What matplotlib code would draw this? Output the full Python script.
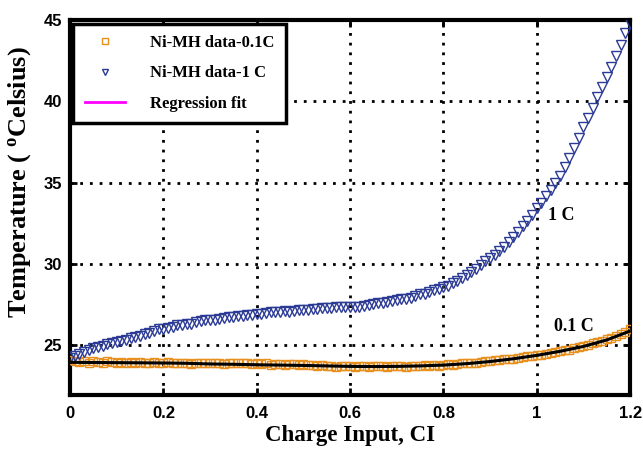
import numpy as np
from matplotlib import pyplot as plt

plt.rcParams['mathtext.fontset'] = 'custom'
plt.rcParams['mathtext.rm'] = 'Liberation Serif:bold'
plt.rcParams['mathtext.it'] = 'Liberation Serif:bold'
plt.rcParams['mathtext.bf'] = 'Liberation Serif:bold'

# charge input (CI) sample positions
ci = np.round(np.linspace(0, 1.2, 121), 2)

temp_1c = [
    24.2, 24.3, 24.45, 24.55, 24.7, 24.8, 24.85, 24.95, 25.05, 25.1,
    25.2, 25.25, 25.3, 25.4, 25.5, 25.55, 25.65, 25.75, 25.85, 25.95,
    26.0, 26.05, 26.1, 26.2, 26.25, 26.3, 26.3, 26.4, 26.45, 26.5,
    26.5, 26.55, 26.6, 26.65, 26.7, 26.7, 26.75, 26.8, 26.85, 26.85,
    26.9, 26.9, 26.95, 27.0, 27.0, 27.05, 27.1, 27.05, 27.1, 27.15,
    27.15, 27.15, 27.2, 27.2, 27.25, 27.25, 27.25, 27.3, 27.3, 27.3,
    27.3, 27.35, 27.35, 27.4, 27.45, 27.5, 27.55, 27.6, 27.65, 27.7,
    27.75, 27.8, 27.85, 27.9, 28.0, 28.1, 28.15, 28.25, 28.35, 28.45,
    28.55, 28.65, 28.8, 28.95, 29.1, 29.3, 29.5, 29.7, 29.9, 30.15,
    30.35, 30.55, 30.8, 31.05, 31.35, 31.65, 31.95, 32.3, 32.65, 33.0,
    33.4, 33.75, 34.15, 34.55, 34.95, 35.4, 35.95, 36.5, 37.15, 37.75,
    38.4, 39.0, 39.6, 40.25, 40.9, 41.5, 42.1, 42.8, 43.5, 44.2,
    44.8,
]

temp_01c = [
    24.05, 24.0, 23.95, 24.0, 23.9, 24.0, 23.95, 23.9, 24.0, 23.95,
    23.9, 23.95, 23.85, 23.95, 23.9, 23.95, 23.9, 23.85, 23.95, 23.9,
    23.9, 23.95, 23.85, 23.9, 23.9, 23.85, 23.8, 23.9, 23.85, 23.9,
    23.85, 23.9, 23.85, 23.8, 23.9, 23.85, 23.9, 23.85, 23.85, 23.8,
    23.85, 23.8, 23.85, 23.75, 23.8, 23.8, 23.75, 23.8, 23.8, 23.75,
    23.8, 23.75, 23.75, 23.7, 23.75, 23.7, 23.7, 23.65, 23.7, 23.7,
    23.7, 23.65, 23.7, 23.7, 23.65, 23.7, 23.7, 23.7, 23.65, 23.7,
    23.7, 23.7, 23.65, 23.7, 23.7, 23.7, 23.75, 23.7, 23.75, 23.7,
    23.75, 23.8, 23.75, 23.8, 23.85, 23.85, 23.9, 23.9, 23.95, 24.0,
    24.0, 24.05, 24.05, 24.1, 24.15, 24.15, 24.2, 24.25, 24.3, 24.3,
    24.35, 24.4, 24.45, 24.5, 24.55, 24.6, 24.65, 24.7, 24.8, 24.85,
    24.95, 25.0, 25.1, 25.15, 25.25, 25.35, 25.45, 25.55, 25.65, 25.8,
    26.0,
]

fit_ci = [0, 0.05, 0.1, 0.15, 0.2, 0.25, 0.3, 0.35, 0.4, 0.45, 0.5, 0.55,
          0.6, 0.65, 0.7, 0.75, 0.8, 0.85, 0.9, 0.95, 1.0, 1.05, 1.1, 1.15, 1.2]
fit_temp = [23.92, 23.91, 23.9, 23.89, 23.88, 23.86, 23.82, 23.8, 23.77, 23.75,
            23.73, 23.7, 23.67, 23.66, 23.67, 23.7, 23.75, 23.84, 23.97, 24.14,
            24.35, 24.6, 24.9, 25.3, 25.85]

xticks = [0, 0.2, 0.4, 0.6, 0.8, 1, 1.2]
xtick_labels = ["0", "0.2", "0.4", "0.6", "0.8", "1", "1.2"]
yticks = [25, 30, 35, 40, 45]

orange = "#E8901E"
navy = "#2B3A94"
serif = "Liberation Serif"
sans = "Liberation Sans"

fig = plt.figure(figsize=(6.43, 4.49), dpi=100)
ax = fig.add_axes([0.109, 0.12, 0.871, 0.835])

ax.plot(ci, temp_01c, linestyle="none", marker="s", markersize=6,
        markerfacecolor="none", markeredgecolor=orange, markeredgewidth=1,
        label="Ni-MH data-0.1C", zorder=3)
ax.plot(ci, temp_1c, linestyle="none", marker="v", markersize=6.5,
        markerfacecolor="none", markeredgecolor=navy, markeredgewidth=1,
        label="Ni-MH data-1 C", zorder=3)
ax.plot(fit_ci, fit_temp, color="black", linewidth=2.2, zorder=4)
# legend proxy: fit shown in magenta in the legend
ax.plot([], [], color="#FF00FF", linewidth=2, label="Regression fit")

ax.text(1.024, 32.95, "1 C", fontfamily=serif, fontweight="bold", fontsize=13,
        va="center", ha="left")
ax.text(1.037, 26.1, "0.1 C", fontfamily=serif, fontweight="bold", fontsize=13,
        va="center", ha="left")

ax.set_xlim(0, 1.2)
ax.set_ylim(21.9, 45)
ax.set_xticks(xticks)
ax.set_xticklabels(xtick_labels)
ax.set_yticks(yticks)
for lab in ax.get_xticklabels() + ax.get_yticklabels():
    lab.set_fontfamily(sans)
    lab.set_fontweight("bold")
    lab.set_fontsize(12)

ax.tick_params(direction="in", length=5, width=2, top=True, right=True)
ax.tick_params(axis="y", pad=6)
ax.tick_params(axis="x", pad=8)
ax.grid(True, color="black", linestyle=(0, (1, 2.5)), linewidth=2)
for sp in ax.spines.values():
    sp.set_linewidth(3)

ax.set_xlabel("Charge Input, CI", fontfamily=serif, fontweight="bold", fontsize=16.5,
              labelpad=3)
ax.set_ylabel("Temperature ( $^{\\mathrm{o}}$Celsius)", fontfamily=serif,
              fontweight="bold", fontsize=19)
ax.yaxis.set_label_coords(-0.066, 0.569)

leg = ax.legend(loc="upper left", prop={"family": serif, "weight": "bold", "size": 12},
                fancybox=False, framealpha=1, edgecolor="black", borderpad=0.7,
                handlelength=2.4, handletextpad=1.5, labelspacing=0.85,
                borderaxespad=0.2, markerscale=0.75)
leg.get_frame().set_linewidth(2.5)

fig.savefig("out.png", dpi=100)
